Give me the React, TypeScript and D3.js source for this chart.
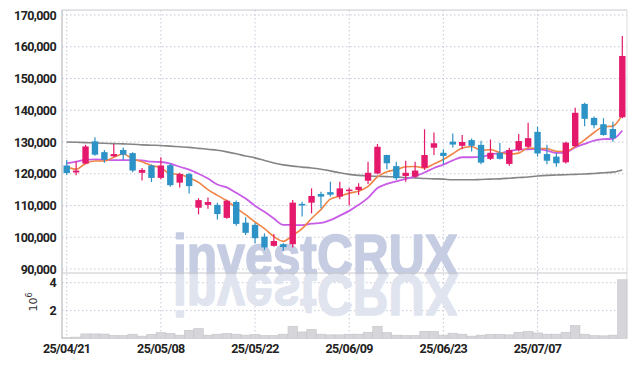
import React from "react";
import * as d3 from "d3";

const dates = ["25/04/21","25/04/22","25/04/23","25/04/24","25/04/25","25/04/28","25/04/29","25/04/30","25/05/02","25/05/07",
"25/05/08","25/05/09","25/05/12","25/05/13","25/05/14","25/05/15","25/05/16","25/05/19","25/05/20","25/05/21",
"25/05/22","25/05/23","25/05/26","25/05/27","25/05/28","25/05/29","25/05/30","25/06/02","25/06/04","25/06/05",
"25/06/09","25/06/10","25/06/11","25/06/12","25/06/13","25/06/16","25/06/17","25/06/18","25/06/19","25/06/20",
"25/06/23","25/06/24","25/06/25","25/06/26","25/06/27","25/06/30","25/07/01","25/07/02","25/07/03","25/07/04",
"25/07/07","25/07/08","25/07/09","25/07/10","25/07/11","25/07/14","25/07/15","25/07/16","25/07/17","25/07/18"];

// prices in thousands
const open = [122.6,120.4,123.2,130.2,126.8,125.5,127.5,126.5,120.3,122.6,
118.7,122.7,117.2,119.9,109.3,110.2,110.2,106.1,111.1,104.6,
103.9,100.2,97.3,97.8,97.8,110.5,110.9,113.6,114.2,112.8,
114.6,114.9,117.8,120.1,125.9,122.4,119.3,119.1,121.9,128.2,
126.6,130.1,128.8,130.6,129.1,124.7,126.6,123.1,127.5,128.5,
133.2,126.2,125.4,123.6,128.7,142.0,137.6,135.6,134.1,137.8];
const high = [124.3,123.9,129.1,131.5,127.5,129.4,128.3,126.8,121.8,122.9,
125.2,123.2,120.3,120.3,112.3,112.5,110.9,111.8,111.6,106.3,
104.5,101.2,101.0,98.1,111.7,111.2,115.4,114.3,117.5,117.5,
115.6,117.0,123.8,129.4,126.0,123.8,124.1,123.8,134.0,133.0,
127.7,132.7,132.2,131.1,130.4,130.8,129.7,128.2,132.5,136.1,
134.8,129.1,126.5,130.1,140.8,142.4,138.0,137.5,136.4,163.4];
const low = [119.7,119.5,123.0,125.7,123.5,125.3,124.3,120.5,117.9,117.4,
118.3,115.9,115.7,113.8,107.2,109.0,105.6,105.8,103.6,100.7,
98.1,96.0,97.0,95.7,96.8,106.5,107.5,109.1,112.8,112.0,
110.0,113.3,116.8,119.8,121.4,118.0,117.5,118.8,121.2,125.9,
123.0,128.3,127.7,127.0,123.0,124.3,124.5,122.5,127.0,128.0,
125.4,123.0,122.2,123.2,128.4,135.0,134.3,132.0,130.1,137.5];
const close = [120.2,121.0,128.6,126.0,124.4,126.2,126.0,121.0,121.2,118.7,
122.6,116.4,119.9,116.1,111.7,111.1,107.3,111.5,104.2,101.4,
99.7,96.8,98.8,96.9,110.9,110.0,113.0,112.8,113.4,115.4,
115.0,115.9,120.3,128.5,123.3,118.6,120.3,121.0,125.9,129.6,
125.6,129.2,130.0,128.8,123.5,126.6,124.7,127.5,130.3,131.2,
126.4,124.1,123.3,129.8,139.2,137.3,135.3,132.2,131.2,157.1];

const ma5 = [122.3,121.4,123.2,124.0,124.0,125.2,126.2,124.7,123.8,122.6,
121.9,120.0,119.8,118.7,117.3,115.0,113.2,111.5,109.2,107.1,
104.8,102.7,100.2,98.7,100.6,102.7,105.9,108.7,112.0,112.9,
113.9,114.5,116.0,119.0,120.6,121.3,122.2,122.3,121.8,123.1,
124.5,126.3,128.1,128.6,127.4,127.6,126.7,126.2,126.5,128.1,
128.0,127.9,127.1,127.0,128.6,130.7,133.0,134.8,135.0,138.6];
const ma10 = [123.3,123.8,124.4,124.5,124.4,124.3,124.3,124.3,124.2,123.8,
123.7,123.2,122.2,121.3,120.0,118.5,116.6,115.7,114.0,112.2,
109.9,108.0,105.9,103.9,103.9,103.8,104.3,104.5,105.4,106.8,
108.3,110.2,112.4,115.5,116.8,117.6,118.4,119.2,120.4,121.8,
122.9,124.2,125.2,125.2,125.3,126.1,126.5,127.1,127.6,127.7,
127.8,127.3,126.6,126.7,128.3,129.4,130.4,130.9,131.0,133.6];
const ma60 = [130.0,129.9,129.8,129.7,129.6,129.5,129.4,129.3,129.1,129.0,
128.9,128.7,128.5,128.3,128.0,127.7,127.4,126.9,126.3,125.6,
125.0,124.2,123.4,122.8,122.4,122.1,121.8,121.4,120.9,120.3,
119.8,119.5,119.3,119.2,119.1,119.0,118.8,118.7,118.5,118.4,
118.3,118.1,118.1,118.1,118.2,118.3,118.4,118.6,118.8,119.0,
119.3,119.5,119.6,119.7,119.8,119.9,120.1,120.3,120.5,121.2];

// volume in millions
const volume = [0.08,0.1,0.33,0.33,0.32,0.22,0.21,0.31,0.17,0.3,
0.42,0.36,0.24,0.59,0.71,0.24,0.31,0.36,0.31,0.24,
0.29,0.21,0.21,0.31,0.88,0.47,0.66,0.31,0.26,0.26,
0.31,0.31,0.45,0.88,0.42,0.24,0.21,0.21,0.52,0.52,
0.24,0.38,0.31,0.17,0.24,0.29,0.29,0.26,0.45,0.52,
0.4,0.31,0.31,0.45,0.93,0.31,0.21,0.19,0.24,4.21];

const priceTicks = [90000,100000,110000,120000,130000,140000,150000,160000,170000];
const volTicks = [2,4];
const dateTicks = ["25/04/21","25/05/08","25/05/22","25/06/09","25/06/23","25/07/07"];

const UP = "#e5196b";
const DOWN = "#2d93c7";
const FONT = "Roboto, 'DejaVu Sans', sans-serif";

export default function App() {
  const W = 635, H = 367;
  const L = 62, R = 627;
  const pTop = 10, pBot = 273, vBot = 338.5;
  const idx = dates.map((_, i) => i);
  const x = d3.scaleBand<number>().domain(idx).range([L, R]).padding(0);
  const bw = x.bandwidth();
  const cx = (i: number) => (x(i) as number) + bw / 2;
  const y = d3.scaleLinear().domain([90000, 170000]).range([269, 15]);
  const yk = (v: number) => y(v * 1000);
  const yv = d3.scaleLinear().domain([0, 4]).range([vBot, 282.7]);
  const line = (arr: number[]) =>
    d3.line<number>().x((_, i) => cx(i)).y((d) => yk(d)).curve(d3.curveMonotoneX)(arr) || "";
  const fmt = d3.format(",");
  const cw = 6.4;

  return (
    <svg width={W} height={H} style={{ position: "absolute", left: 0, top: 0, background: "#fff" }}>
      {/* grid */}
      <g stroke="#c3c6d8" strokeWidth={1} strokeDasharray="1.5,2.5">
        {priceTicks.map((t) => (
          <line key={t} x1={L} x2={R} y1={y(t)} y2={y(t)} />
        ))}
        {volTicks.map((t) => (
          <line key={"v" + t} x1={L} x2={R} y1={yv(t)} y2={yv(t)} />
        ))}
        {dateTicks.map((d) => {
          const i = dates.indexOf(d);
          return <line key={d} x1={cx(i)} x2={cx(i)} y1={pTop} y2={vBot} />;
        })}
      </g>
      {/* watermark */}
      <g fontFamily="'Liberation Sans', Arial, sans-serif" fontWeight={700} fontSize={58} strokeLinejoin="round">
        <text x={173} y={275} textLength={285} lengthAdjust="spacingAndGlyphs" fill="#c6cde2" stroke="#c6cde2" strokeWidth={1.6}>investCRUX</text>
        <g transform="translate(0,550) scale(1,-1)">
          <text x={173} y={275} textLength={285} lengthAdjust="spacingAndGlyphs" fill="#e0e4ef" stroke="#e0e4ef" strokeWidth={1.6}>investCRUX</text>
        </g>
      </g>
      {/* frame */}
      <g stroke="#c8c8cc" strokeWidth={1} fill="none">
        <line x1={L} x2={R} y1={pTop} y2={pTop} />
        <line x1={R} x2={R} y1={pTop} y2={vBot} stroke="#dcdce0" />
        <line x1={L} x2={R} y1={pBot} y2={pBot} />
        <line x1={L} x2={L} y1={pTop} y2={vBot} strokeWidth={1.5} />
      </g>
      {/* volume */}
      <g>
        {volume.map((v, i) => (
          <rect key={i} x={(x(i) as number)} y={yv(v)} width={bw} height={vBot - yv(v)}
            fill="#d6d6da" stroke="#c4c4c8" strokeWidth={0.6} />
        ))}
      </g>
      {/* moving averages */}
      <path d={line(ma60)} fill="none" stroke="#858585" strokeWidth={1.6} />
      <path d={line(ma10)} fill="none" stroke="#c95ce6" strokeWidth={1.8} />
      <path d={line(ma5)} fill="none" stroke="#ef8445" strokeWidth={1.6} />
      {/* candles */}
      <g>
        {idx.map((i) => {
          const up = close[i] >= open[i];
          const col = up ? UP : DOWN;
          const yT = yk(Math.max(open[i], close[i]));
          const yB = yk(Math.min(open[i], close[i]));
          const h = Math.max(yB - yT, 1.5);
          return (
            <g key={i}>
              <line x1={cx(i)} x2={cx(i)} y1={yk(high[i])} y2={yk(low[i])} stroke={col} strokeWidth={1.2} />
              <rect x={cx(i) - cw / 2} y={yT} width={cw} height={h} fill={col} />
            </g>
          );
        })}
      </g>
      {/* axes labels */}
      <g fontFamily={FONT} fontWeight={700} fontSize={12.5} fill="#222" letterSpacing={-0.6}>
        {priceTicks.map((t) => (
          <text key={t} x={56} y={y(t)} dy="0.36em" textAnchor="end">{fmt(t)}</text>
        ))}
        {volTicks.map((t) => (
          <text key={"v" + t} x={56} y={yv(t)} dy="0.36em" textAnchor="end">{t}</text>
        ))}
        {dateTicks.map((d) => {
          const i = dates.indexOf(d);
          return <text key={d} x={cx(i)} y={353} textAnchor="middle">{d}</text>;
        })}
      </g>
      <text transform="translate(37,302) rotate(-90)" fontFamily="'DejaVu Sans', sans-serif" fontSize={11} fill="#333" textAnchor="middle">
        10<tspan dy={-5} fontSize={8}>6</tspan>
      </text>
    </svg>
  );
}
